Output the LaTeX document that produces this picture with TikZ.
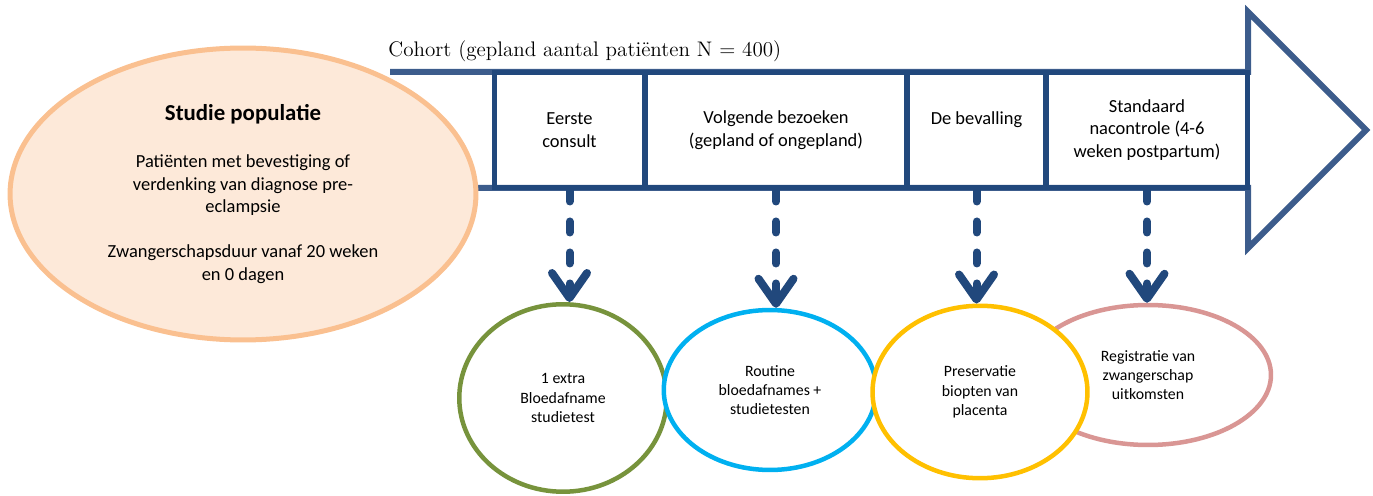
\documentclass[tikz,border=0pt]{standalone}
\usepackage{fontspec}
\setsansfont{Carlito}
\usepackage{xcolor}
\usepackage{tikz}
\usetikzlibrary{positioning,arrows.meta,shapes.geometric}
\definecolor{arrowblue}{RGB}{60,92,140}
\definecolor{boxblue}{RGB}{33,72,124}
\definecolor{popfill}{RGB}{253,233,217}
\definecolor{popline}{RGB}{250,192,144}
\definecolor{catGreen}{RGB}{119,147,60}
\definecolor{catBlue}{RGB}{0,176,240}
\definecolor{catYellow}{RGB}{255,192,0}
\definecolor{catPink}{RGB}{217,150,148}
\tikzset{
  cohort-arrow/.style={draw=arrowblue, line width=0.12cm, line join=miter},
  phase-box/.style={draw=boxblue, line width=0.1cm, minimum height=2.32cm,
    font=\sffamily\fontsize{10.5}{13}\selectfont, align=center, inner sep=0pt},
  population-node/.style={ellipse, draw=popline, fill=popfill, line width=0.1cm,
    minimum width=9.32cm, minimum height=5.84cm, align=center, inner sep=0pt,
    font=\sffamily\fontsize{10.5}{12.75}\selectfont},
  outcome-node/.style={ellipse, line width=0.09cm, fill=white, align=center,
    inner sep=0pt, font=\sffamily\fontsize{9}{11}\selectfont},
  visit-arrow/.style={draw=boxblue, line width=0.16cm, line cap=round,
    dash pattern=on 0.22cm off 0.4cm,
    -{Straight Barb[length=0.5cm, width=0.7cm, round]}},
  title-text/.style={font=\rmfamily\fontsize{12}{14}\selectfont, inner sep=0pt}
}
\begin{document}
\begin{tikzpicture}[x=0.02cm, y=-0.02cm]
\useasboundingbox (0,0) rectangle (1373,496);

% Cohort arrow with the title above it
\draw[cohort-arrow] (390,72) -- (1248,72) -- (1248,12) -- (1366,130) -- (1248,248) -- (1248,188) -- (390,188);
\node[title-text, anchor=base west] (cohort) at (388,57) {Cohort (gepland aantal patiënten N = 400)};

% Phases of the study
\node[phase-box, minimum width=3.02cm] (consult) at (569.5,130) {Eerste\\consult};
\node[phase-box, minimum width=5.24cm] (visits) at (776,130) {Volgende bezoeken\\(gepland of ongepland)};
\node[phase-box, minimum width=2.78cm] (delivery) at (976.5,130) {De bevalling\\\phantom{x}};
\node[phase-box, minimum width=4.04cm] (postpartum) at (1147,130) {Standaard\\nacontrole (4-6\\weken postpartum)};

% Study population
\node[population-node] (population) at (243,194) {{\fontsize{13}{15}\selectfont\bfseries Studie populatie}\\[14pt]
  Patiënten met bevestiging of\\verdenking van diagnose pre-\\eclampsie\\[13pt]
  Zwangerschapsduur vanaf 20 weken\\en 0 dagen};

% Study actions per phase
\node[outcome-node, draw=catGreen, minimum width=4.15cm, minimum height=3.75cm] (sample) at (563,398) {1 extra\\Bloedafname\\studietest};
\node[outcome-node, draw=catBlue, minimum width=4.25cm, minimum height=3.2cm] (routine) at (770,390) {Routine\\bloedafnames +\\studietesten};
\node[outcome-node, draw=catPink, minimum width=4.92cm, minimum height=2.8cm] (registry) at (1148,375) {Registratie van\\zwangerschap\\uitkomsten};
\node[outcome-node, draw=catYellow, minimum width=4.3cm, minimum height=3.45cm] (biopsy) at (980,392) {Preservatie\\biopten van\\placenta};

% Connections phase -> action
\draw[visit-arrow] (consult.south) -- (consult.south |- sample.north);
\draw[visit-arrow] (visits.south) -- (visits.south |- routine.north);
\draw[visit-arrow] (delivery.south) -- (delivery.south |- biopsy.north);
\draw[visit-arrow] (postpartum.south) -- (postpartum.south |- registry.north);
\end{tikzpicture}
\end{document}
